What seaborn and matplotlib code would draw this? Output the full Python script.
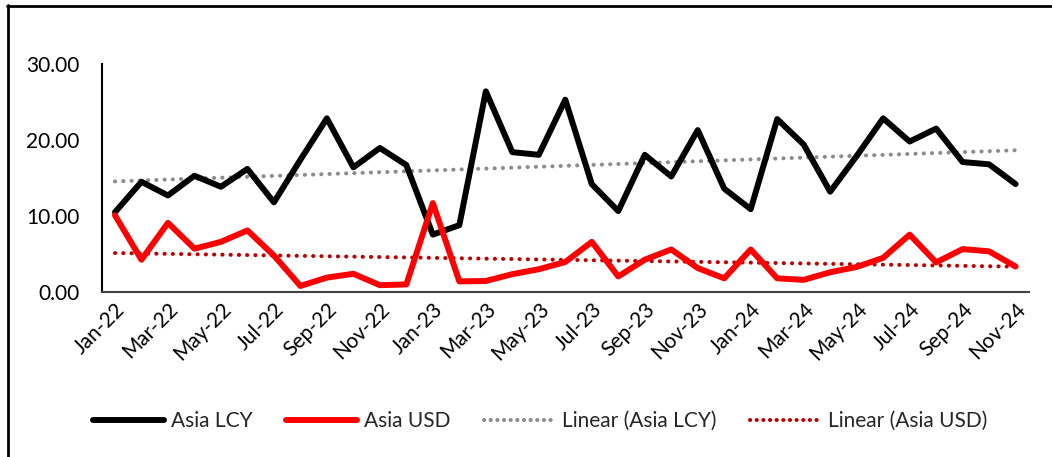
import numpy as np
import pandas as pd
import matplotlib
matplotlib.use("Agg")
import matplotlib.pyplot as plt
from matplotlib.lines import Line2D
import seaborn as sns

# Monthly series, Jan-22 .. Nov-24
months = pd.date_range("2022-01-01", "2024-11-01", freq="MS").strftime("%b-%y").tolist()

asia_lcy = [10.5, 14.5, 12.7, 15.3, 13.85, 16.2, 11.8, 17.4, 22.85, 16.4, 18.95, 16.7,
            7.55, 8.8, 26.4, 18.4, 18.05, 25.3, 14.2, 10.65, 18.05, 15.2, 21.3, 13.6,
            10.9, 22.75, 19.4, 13.2, 17.9, 22.85, 19.8, 21.5, 17.1, 16.8, 14.2]

asia_usd = [10.1, 4.25, 9.1, 5.7, 6.6, 8.1, 4.8, 0.8, 1.9, 2.4, 0.9, 1.0,
            11.7, 1.4, 1.45, 2.35, 3.0, 3.95, 6.6, 2.05, 4.25, 5.6, 3.15, 1.8,
            5.6, 1.8, 1.6, 2.6, 3.3, 4.5, 7.55, 3.9, 5.65, 5.35, 3.35]

y_ticks = [0, 10, 20, 30]

sns.set_theme(style="white")
plt.rcParams["font.family"] = ["Lato", "DejaVu Sans"]

pos = np.arange(len(months))
df = pd.DataFrame({"pos": pos, "Asia LCY": asia_lcy, "Asia USD": asia_usd})

# least-squares trend for each series
df["Linear (Asia LCY)"] = np.polyval(np.polyfit(pos, df["Asia LCY"], 1), pos)
df["Linear (Asia USD)"] = np.polyval(np.polyfit(pos, df["Asia USD"], 1), pos)

fig = plt.figure(figsize=(10.52, 4.57), dpi=100)
ax = fig.add_axes([0.0967, 0.361, 0.978 - 0.0967, 0.860 - 0.361])

dot_style = (0, (0.05, 2.0))
sns.lineplot(data=df, x="pos", y="Linear (Asia LCY)", ax=ax, color="#8C8C8C",
             lw=2.9, linestyle=dot_style, dash_capstyle="round", zorder=2)
sns.lineplot(data=df, x="pos", y="Linear (Asia USD)", ax=ax, color="#C00000",
             lw=2.9, linestyle=dot_style, dash_capstyle="round", zorder=2)
sns.lineplot(data=df, x="pos", y="Asia LCY", ax=ax, color="black", lw=4.3,
             solid_joinstyle="round", solid_capstyle="round", zorder=3)
sns.lineplot(data=df, x="pos", y="Asia USD", ax=ax, color="#FF0000", lw=4.3,
             solid_joinstyle="round", solid_capstyle="round", zorder=4)

ax.set_xlim(-0.5, len(months) - 0.5)
ax.set_ylim(0, 30)
ax.set_yticks(y_ticks)
ax.set_yticklabels([f"{v:.2f}" for v in y_ticks], fontsize=15, color="black")
ax.set_xticks(pos[::2])
ax.set_xticklabels(months[::2], rotation=45, ha="right", rotation_mode="anchor",
                   fontsize=15, color="black")
ax.tick_params(axis="y", length=0, pad=16)
ax.tick_params(axis="x", length=0, pad=5)
ax.set_xlabel("")
ax.set_ylabel("")
ax.grid(False)
for side in ["top", "right"]:
    ax.spines[side].set_visible(False)
ax.spines["left"].set_color("black")
ax.spines["left"].set_linewidth(1.5)
ax.spines["bottom"].set_color("#404040")
ax.spines["bottom"].set_linewidth(1.5)

handles = [
    Line2D([], [], color="black", lw=4.3, solid_capstyle="round"),
    Line2D([], [], color="#FF0000", lw=4.3, solid_capstyle="round"),
    Line2D([], [], color="#8C8C8C", lw=2.9, linestyle=(0, (0.05, 1.6)), dash_capstyle="round"),
    Line2D([], [], color="#C00000", lw=2.9, linestyle=(0, (0.05, 1.6)), dash_capstyle="round"),
]
labels = ["Asia LCY", "Asia USD", "Linear (Asia LCY)", "Linear (Asia USD)"]
fig.legend(handles, labels, loc="center", bbox_to_anchor=(540 / 1052, 1 - 421 / 457),
           ncol=4, frameon=False, fontsize=15, handlelength=3.4, handletextpad=0.35,
           columnspacing=1.6)

# outer frame: top and left edges of the surrounding box
W, H = 1052, 457
fig.add_artist(Line2D([7 / W, 1.0], [1 - 6 / H, 1 - 6 / H], color="black", lw=2,
                      transform=fig.transFigure))
fig.add_artist(Line2D([7.8 / W, 7.8 / W], [1 - 5 / H, 0.0], color="black", lw=2,
                      transform=fig.transFigure))

fig.savefig("out.png", dpi=100, facecolor="white")
